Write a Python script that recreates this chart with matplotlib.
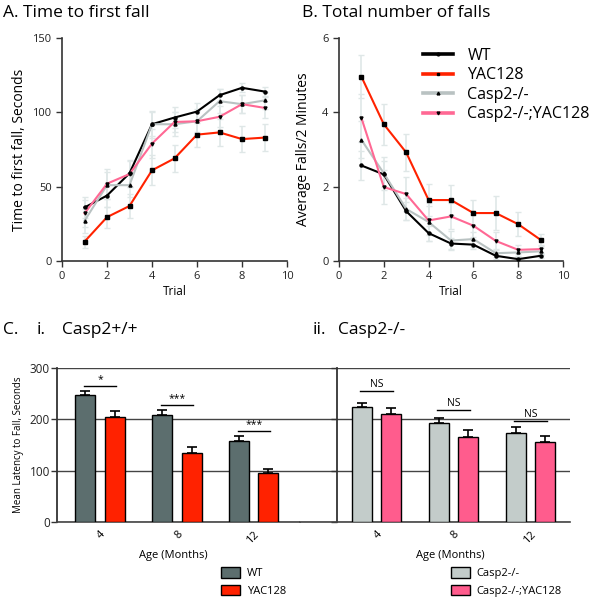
import numpy as np
import matplotlib
matplotlib.use("Agg")
import matplotlib.pyplot as plt
from matplotlib.patches import Patch

plt.rcParams['font.family'] = ['Open Sans', 'DejaVu Sans']

# ---------------- data ----------------
trials = [1, 2, 3, 4, 5, 6, 7, 8, 9]
groups = ['WT', 'YAC128', 'Casp2-/-', 'Casp2-/-;YAC128']

# A. time to first fall (s)
fall_wt = [36, 44, 59, 92, 96.5, 100.5, 111.5, 116.5, 114]
fall_yac = [13, 29.5, 37, 61, 69, 85, 86.5, 82, 83]
fall_casp = [27, 51, 51, 92, 92, 94, 107.5, 105.5, 108]
fall_casp_yac = [32, 52, 58.5, 79, 93.5, 94, 97, 105.5, 103]
fall_wt_err = [7, 8, 9, 9, 7, 6, 4, 3, 3]
fall_yac_err = [4, 7, 8, 10, 9, 8, 9, 9, 9]
fall_casp_err = [8, 9, 8, 8, 8, 7, 8, 6, 6]
fall_casp_yac_err = [9, 10, 9, 10, 7, 8, 7, 6, 7]

# B. average falls / 2 minutes
nfall_wt = [2.57, 2.33, 1.34, 0.75, 0.47, 0.44, 0.14, 0.05, 0.14]
nfall_yac = [4.96, 3.68, 2.92, 1.64, 1.64, 1.29, 1.29, 0.99, 0.57]
nfall_casp = [3.26, 2.36, 1.40, 1.05, 0.55, 0.59, 0.21, 0.23, 0.26]
nfall_casp_yac = [3.85, 1.99, 1.80, 1.09, 1.20, 0.95, 0.54, 0.30, 0.32]
nfall_wt_err = [0.38, 0.35, 0.25, 0.2, 0.15, 0.12, 0.08, 0.05, 0.06]
nfall_yac_err = [0.57, 0.55, 0.5, 0.44, 0.41, 0.36, 0.45, 0.33, 0.16]
nfall_casp_err = [0.5, 0.45, 0.3, 0.5, 0.25, 0.2, 0.1, 0.1, 0.1]
nfall_casp_yac_err = [0.65, 0.45, 0.45, 0.4, 0.35, 0.3, 0.25, 0.12, 0.1]

# C. mean latency to fall (s)
ages = ['4', '8', '12']
lat_wt = [248, 208, 158]
lat_wt_err = [8, 10, 9]
lat_yac = [205, 134, 96]
lat_yac_err = [12, 12, 7]
lat_casp = [224, 192, 173]
lat_casp_err = [8, 11, 13]
lat_casp_yac = [210, 166, 155]
lat_casp_yac_err = [12, 13, 13]
sig_left = ['*', '***', '***']
sig_left_y = [264, 227, 177]
sig_right = ['NS', 'NS', 'NS']
sig_right_y = [256, 219, 196]

# ---------------- styling ----------------
c_wt = '#000000'
c_yac = '#ff2200'
c_casp = '#b9c2c2'
c_casp_yac = '#ff6894'
bar_wt = '#5c6e6e'
bar_yac = '#ff2200'
bar_casp = '#c3ccca'
bar_casp_yac = '#ff5c8d'
err_col = '#dfe7e7'
spine_col = '#333333'

fig = plt.figure(figsize=(6.0, 6.03), dpi=100)
W, H = 600, 603


def box(x0, y0, x1, y1):
    return [x0 / W, 1 - y1 / H, (x1 - x0) / W, (y1 - y0) / H]


def style_line_axes(ax):
    for s in ['top', 'right']:
        ax.spines[s].set_visible(False)
    for s in ['left', 'bottom']:
        ax.spines[s].set_color(spine_col)
        ax.spines[s].set_linewidth(1.2)
    ax.tick_params(direction='out', length=4, width=1, colors=spine_col,
                   labelsize=8, labelcolor='#222222')


# ---- A ----
axA = fig.add_axes(box(62, 38, 287, 261))
seriesA = [(fall_wt, fall_wt_err, c_wt, 'o'),
           (fall_casp, fall_casp_err, c_casp, '^'),
           (fall_casp_yac, fall_casp_yac_err, c_casp_yac, 'v'),
           (fall_yac, fall_yac_err, c_yac, 's')]
for vals, errs, col, mk in seriesA:
    axA.errorbar(trials, vals, yerr=errs, fmt='none', ecolor=err_col,
                 elinewidth=1.2, capsize=2, zorder=1)
for vals, errs, col, mk in seriesA:
    axA.plot(trials, vals, color=col, lw=1.5, zorder=3)
    axA.plot(trials, vals, ls='none', marker=mk, ms=2.2, color='black', zorder=4)
axA.set_xlim(0, 10)
axA.set_ylim(0, 150)
axA.set_xticks([0, 2, 4, 6, 8, 10])
axA.set_yticks([0, 50, 100, 150])
axA.set_xlabel('Trial', fontsize=8.5, labelpad=2)
axA.set_ylabel('Time to first fall, Seconds', fontsize=10, labelpad=4)
style_line_axes(axA)
fig.text(3 / W, 1 - 13 / H, 'A. Time to first fall', fontsize=12.5,
         va='center', ha='left')

# ---- B ----
axB = fig.add_axes(box(339, 38, 563, 261))
seriesB = [(nfall_wt, nfall_wt_err, c_wt, 'o', 'WT'),
           (nfall_yac, nfall_yac_err, c_yac, 's', 'YAC128'),
           (nfall_casp, nfall_casp_err, c_casp, '^', 'Casp2-/-'),
           (nfall_casp_yac, nfall_casp_yac_err, c_casp_yac, 'v', 'Casp2-/-;YAC128')]
for vals, errs, col, mk, lab in seriesB:
    axB.errorbar(trials, vals, yerr=errs, fmt='none', ecolor=err_col,
                 elinewidth=1.2, capsize=2, zorder=1)
handles = []
for vals, errs, col, mk, lab in seriesB:
    axB.plot(trials, vals, color=col, lw=1.5, zorder=3)
    axB.plot(trials, vals, ls='none', marker=mk, ms=2.2, color='black', zorder=4)
    h, = axB.plot([], [], color=col, lw=2.6, marker=mk, ms=2, mfc='black',
                  mec='black', label=lab)
    handles.append(h)
axB.set_xlim(0, 10)
axB.set_ylim(0, 6)
axB.set_xticks([0, 2, 4, 6, 8, 10])
axB.set_yticks([0, 2, 4, 6])
axB.set_xlabel('Trial', fontsize=8.5, labelpad=2)
axB.set_ylabel('Average Falls/2 Minutes', fontsize=10, labelpad=8)
style_line_axes(axB)
axB.legend(handles=handles, loc='upper left', bbox_to_anchor=(0.345, 0.985),
           frameon=False, fontsize=11.5, handlelength=1.9, handletextpad=0.9,
           labelspacing=0.22, borderaxespad=0)
fig.text(302 / W, 1 - 13 / H, 'B. Total number of falls', fontsize=12.5,
         va='center', ha='left')

# ---- C ----
fig.text(3 / W, 1 - 330 / H, 'C.', fontsize=12.5, va='center', ha='left')
fig.text(37 / W, 1 - 330 / H, 'i.', fontsize=12.5, va='center', ha='left')
fig.text(62 / W, 1 - 330 / H, 'Casp2+/+', fontsize=12.5, va='center', ha='left')
fig.text(313 / W, 1 - 330 / H, 'ii.', fontsize=12.5, va='center', ha='left')
fig.text(338 / W, 1 - 330 / H, 'Casp2-/-', fontsize=12.5, va='center', ha='left')

x = np.arange(len(ages))
bw = 0.26
off = 0.19


def bar_panel(ax, v1, e1, c1, v2, e2, c2, sig, sig_y):
    for vals, errs, col, sh in [(v1, e1, c1, -off), (v2, e2, c2, off)]:
        ax.bar(x + sh, vals, width=bw, color=col, edgecolor='black',
               linewidth=1.0, zorder=3)
        ax.errorbar(x + sh, vals, yerr=[np.zeros(len(errs)), errs], fmt='none',
                    ecolor='black', elinewidth=1.2, capsize=3.5, capthick=1.2,
                    zorder=2)
    for xi, s, sy in zip(x, sig, sig_y):
        ax.plot([xi - off - 0.02, xi + off + 0.02], [sy, sy], color='black',
                lw=1.0, zorder=4)
        ax.text(xi, sy + 2, s, ha='center', va='bottom', fontsize=7.5)
    ax.set_ylim(0, 300)
    ax.set_yticks([0, 100, 200, 300])
    ax.yaxis.grid(True, color='#444444', lw=1.0)
    ax.set_axisbelow(True)
    for s in ['top', 'right']:
        ax.spines[s].set_visible(False)
    ax.spines['left'].set_color(spine_col)
    ax.spines['left'].set_linewidth(1.3)
    ax.spines['bottom'].set_color('#444444')
    ax.spines['bottom'].set_linewidth(1.2)
    ax.set_xticks(x)
    ax.set_xticklabels(ages, rotation=45, ha='right', rotation_mode='anchor',
                       fontsize=8)
    ax.tick_params(axis='x', length=0, pad=5)
    ax.tick_params(axis='y', direction='out', length=4, width=1,
                   colors=spine_col, labelsize=8.5, labelcolor='#222222', pad=1)


axC1 = fig.add_axes(box(57, 368, 300, 522))
bar_panel(axC1, lat_wt, lat_wt_err, bar_wt, lat_yac, lat_yac_err, bar_yac,
          sig_left, sig_left_y)
axC1.set_xlim(-0.56, 2.6)
axC1.set_ylabel('Mean Latency to Fall, Seconds', fontsize=7, labelpad=4)
axC1.set_xlabel('Age (Months)', fontsize=8)
axC1.xaxis.set_label_coords((173 - 57) / 243, (522 - 550) / 154)

axC2 = fig.add_axes(box(300, 368, 570, 522))
bar_panel(axC2, lat_casp, lat_casp_err, bar_casp, lat_casp_yac,
          lat_casp_yac_err, bar_casp_yac, sig_right, sig_right_y)
axC2.set_xlim(-0.99, 2.51)
axC2.spines['left'].set_position(('data', -0.513))
axC2.tick_params(axis='y', labelleft=False)
axC2.set_xlabel('Age (Months)', fontsize=8)
axC2.xaxis.set_label_coords((450 - 300) / 270, (522 - 550) / 154)

legC1 = [Patch(facecolor=bar_wt, edgecolor='black', label='WT'),
         Patch(facecolor=bar_yac, edgecolor='black', label='YAC128')]
fig.legend(handles=legC1, loc='upper left', bbox_to_anchor=(221 / W, 1 - 567 / H),
           frameon=False, fontsize=8, handlelength=1.7, handleheight=1.1,
           labelspacing=0.5, handletextpad=0.6, borderaxespad=0, borderpad=0)
legC2 = [Patch(facecolor=bar_casp, edgecolor='black', label='Casp2-/-'),
         Patch(facecolor=bar_casp_yac, edgecolor='black', label='Casp2-/-;YAC128')]
fig.legend(handles=legC2, loc='upper left', bbox_to_anchor=(451 / W, 1 - 567 / H),
           frameon=False, fontsize=8, handlelength=1.7, handleheight=1.1,
           labelspacing=0.5, handletextpad=0.6, borderaxespad=0, borderpad=0)

fig.savefig('out.png', dpi=100)
